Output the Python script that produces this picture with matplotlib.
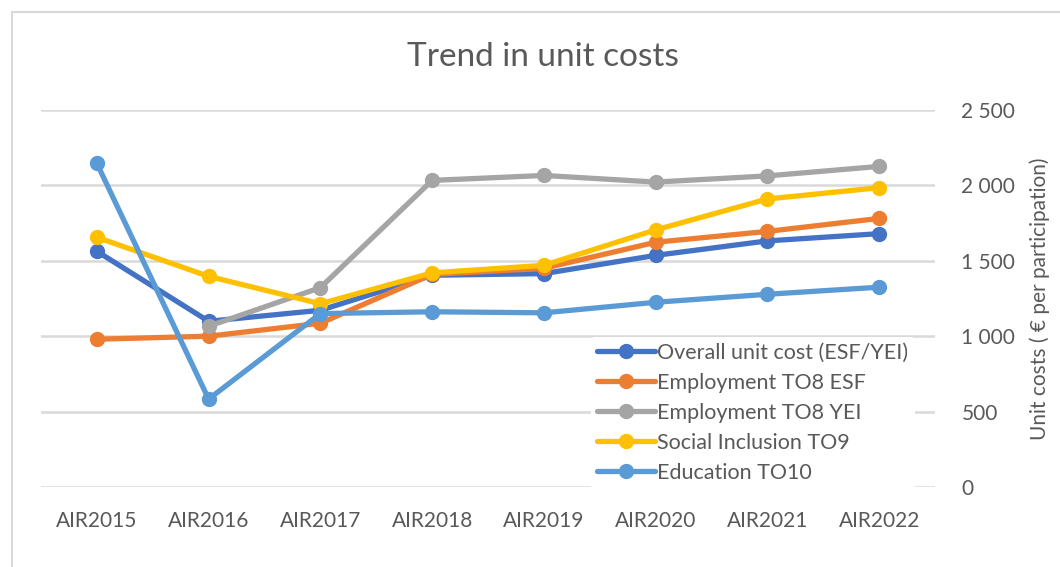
import matplotlib
matplotlib.use("Agg")
import matplotlib.pyplot as plt
from matplotlib.patches import Rectangle
from matplotlib.ticker import FuncFormatter

plt.rcParams['font.family'] = ['Lato', 'DejaVu Sans']

categories = ["AIR2015", "AIR2016", "AIR2017", "AIR2018", "AIR2019", "AIR2020", "AIR2021", "AIR2022"]
overall = [1563, 1099, 1172, 1404, 1415, 1536, 1632, 1680]
employment_esf = [980, 1000, 1086, 1410, 1450, 1623, 1695, 1781]
employment_yei = [None, 1066, 1322, 2033, 2066, 2022, 2063, 2126]
social_inclusion = [1656, 1397, 1215, 1420, 1470, 1705, 1910, 1985]
education = [2146, 583, 1150, 1162, 1155, 1225, 1278, 1325]

series_names = ["Overall unit cost (ESF/YEI)", "Employment TO8 ESF", "Employment TO8 YEI",
                "Social Inclusion TO9", "Education TO10"]
series_values = [overall, employment_esf, employment_yei, social_inclusion, education]
series_colors = ["#4472C4", "#ED7D31", "#A5A5A5", "#FFC000", "#5B9BD5"]
yticks = [0, 500, 1000, 1500, 2000, 2500]

text_color = "#595959"

fig = plt.figure(figsize=(10.6, 5.67), dpi=100)
fig.patches.append(Rectangle((12/1060, -0.1), 1.2, 1 - 12/567 + 0.1, transform=fig.transFigure,
                             fill=False, edgecolor="#D9D9D9", linewidth=1.5, zorder=0))

ax = fig.add_axes([41/1060, 1 - 487/567, (935 - 41)/1060, (487 - 110)/567])
x = list(range(len(categories)))
for name, vals, col in zip(series_names, series_values, series_colors):
    xs = [xi for xi, v in zip(x, vals) if v is not None]
    ys = [v for v in vals if v is not None]
    ax.plot(xs, ys, color=col, linewidth=3.8, marker='o', markersize=10,
            solid_capstyle='round', label=name)

ax.set_xlim(-0.5, len(categories) - 0.5)
ax.set_ylim(0, 2500)
ax.set_yticks(yticks)
ax.yaxis.set_major_formatter(FuncFormatter(lambda v, p: f"{int(v):,}".replace(",", " ")))
ax.set_xticks(x)
ax.set_xticklabels(categories)
ax.yaxis.tick_right()
ax.yaxis.set_label_position("right")
ax.tick_params(axis='both', length=0, labelsize=15, colors=text_color)
ax.tick_params(axis='x', pad=17)
ax.tick_params(axis='y', pad=19)
for lbl in ax.get_yticklabels():
    lbl.set_horizontalalignment('left')
ax.grid(axis='y', color="#D9D9D9", linewidth=1.8)
ax.set_axisbelow(True)
for s in ax.spines.values():
    s.set_visible(False)

ax.set_ylabel("Unit costs ( € per participation)", fontsize=15, color=text_color, labelpad=10)
fig.text(543/1060, 1 - 57/567, "Trend in unit costs", ha='center', va='center',
         fontsize=24, color=text_color)

leg = ax.legend(loc='upper left', bbox_to_anchor=((590.5 - 41)/894, (487 - 336.5)/377),
                frameon=True, fontsize=15.5,
                handlelength=2.7, handletextpad=0.1, labelspacing=0.46, borderpad=0.3,
                borderaxespad=0.0)
leg.get_frame().set_facecolor("white")
leg.get_frame().set_edgecolor("none")
leg.get_frame().set_alpha(1.0)
for t in leg.get_texts():
    t.set_color(text_color)

fig.savefig("out.png", dpi=100)
